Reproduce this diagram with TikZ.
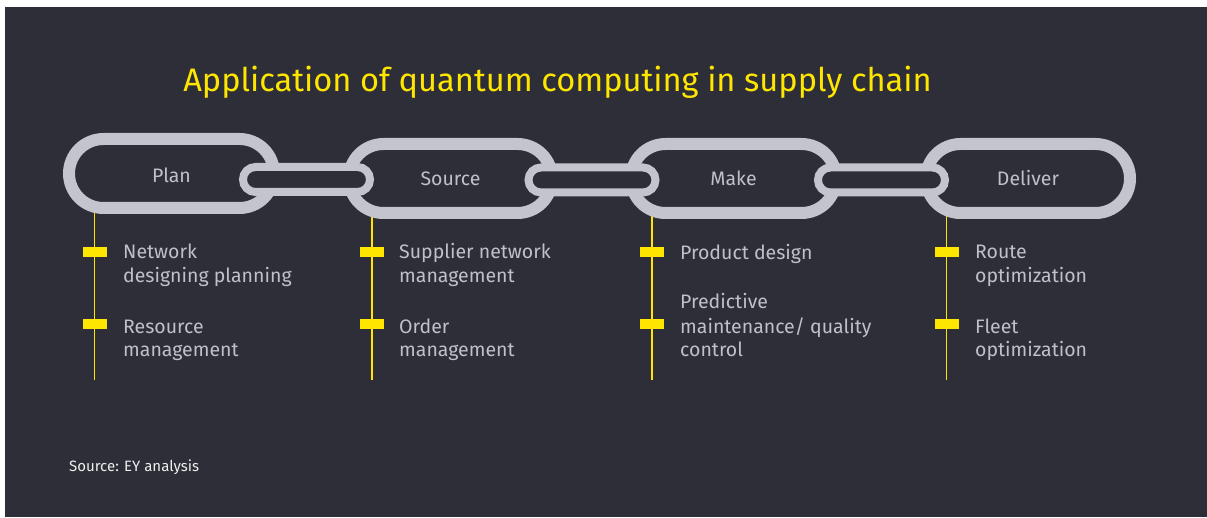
\documentclass[tikz,border=0pt]{standalone}
\usepackage{fontspec}
\setmainfont{Fira Sans}
\usetikzlibrary{shapes.misc}
\definecolor{eydark}{HTML}{2E2E38}
\definecolor{chaingrey}{HTML}{C4C4CD}
\definecolor{eyyellow}{HTML}{FFE600}
\definecolor{textgrey}{HTML}{C0C0C8}
\begin{document}
\begin{tikzpicture}[x=1pt,y=-1pt,
  biglink/.style={rounded rectangle, draw=chaingrey, line width=12pt, fill=eydark,
    minimum height=69pt, minimum width=205pt, inner sep=0pt, text=textgrey,
    font=\fontsize{19.5}{24}\selectfont},
  smalllink/.style={rounded rectangle, draw=chaingrey, line width=8pt, fill=eydark,
    minimum height=25pt, minimum width=127pt, inner sep=0pt},
  stem/.style={draw=eyyellow, line width=1.6pt},
  marker/.style={fill=eyyellow, minimum width=24pt, minimum height=10pt, inner sep=0pt},
  item/.style={anchor=base west, align=left, inner sep=0pt, text=textgrey,
    font=\fontsize{19.5}{24}\selectfont},
]
\useasboundingbox (0,0) rectangle (1207,518);
\fill[white] (0,0) rectangle (1207,518);
\fill[eydark] (5,7) rectangle (1207,517);

% title
\node[anchor=base, inner sep=0pt, text=eyyellow, font=\fontsize{32.6}{38}\selectfont]
  (title) at (557.5,92) {Application of quantum computing in supply chain};

% end points of the yellow stems
\coordinate (planend) at (94.5,380);
\coordinate (sourceend) at (372,380);
\coordinate (makeend) at (652,380);
\coordinate (deliverend) at (946.5,380);

% positions of the links
\coordinate (planpos) at (171.5,173.5);
\coordinate (sourcepos) at (450.5,178.5);
\coordinate (makepos) at (733.5,178.5);
\coordinate (deliverpos) at (1028,178.5);

% stems, drawn first so the rings hide their upper ends
\draw[stem] (planpos -| planend) -- (planend);
\draw[stem] (sourcepos -| sourceend) -- (sourceend);
\draw[stem] (makepos -| makeend) -- (makeend);
\draw[stem] (deliverpos -| deliverend) -- (deliverend);

% large chain links
\node[biglink, text height=19pt, text depth=0pt] (plan) at (planpos) {Plan};
\node[biglink, minimum width=203pt] (source) at (sourcepos) {Source};
\node[biglink] (make) at (makepos) {Make};
\node[biglink, minimum width=204pt] (deliver) at (deliverpos) {Deliver};

% small connecting links
\node[smalllink] (ps) at (306.5,179.5) {};
\node[smalllink] (sm) at (592,180) {};
\node[smalllink] (md) at (881.5,180) {};

% markers on the stems
\node[marker] (plan1) at (94.5,252) {};
\node[marker] (plan2) at (94.5,324) {};
\node[marker] (source1) at (372,252) {};
\node[marker] (source2) at (372,324) {};
\node[marker] (make1) at (652,252) {};
\node[marker] (make2) at (652,324) {};
\node[marker] (deliver1) at (946.5,252) {};
\node[marker] (deliver2) at (946.5,324) {};

% items (base anchor sits on the last line)
\node[item] (plantxt1) at (123,283) {Network\\designing planning};
\node[item] (plantxt2) at (123,357) {Resource\\management};
\node[item] (sourcetxt1) at (399,283) {Supplier network\\management};
\node[item] (sourcetxt2) at (399,357) {Order\\management};
\node[item] (maketxt1) at (680,260) {Product design};
\node[item] (maketxt2) at (680,357) {Predictive\\maintenance/ quality\\control};
\node[item] (delivertxt1) at (975,283) {Route\\optimization};
\node[item] (delivertxt2) at (975,357) {Fleet\\optimization};

% source note
\node[anchor=base west, inner sep=0pt, text=white!92!eydark, font=\fontsize{15}{18}\selectfont]
  (note) at (69,471) {Source: EY analysis};
\end{tikzpicture}
\end{document}
